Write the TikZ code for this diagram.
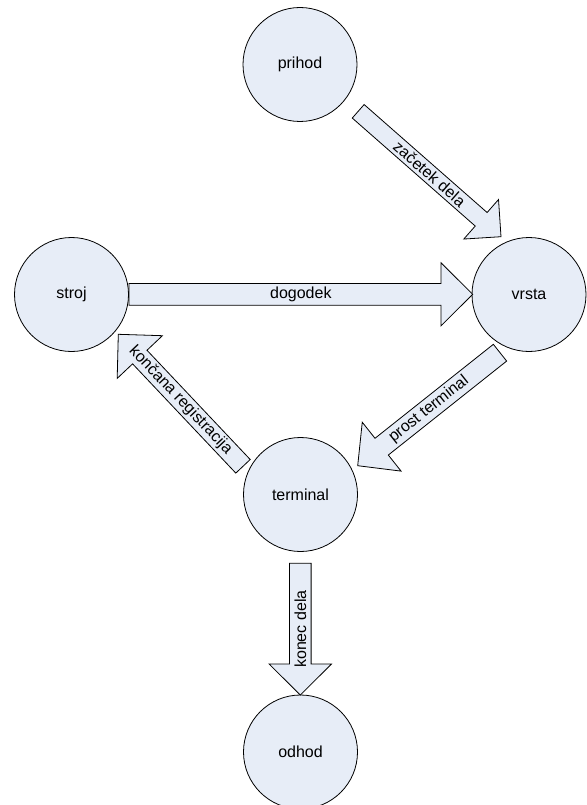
\documentclass[tikz,border=0pt]{standalone}
\usepackage{fontspec}
\setmainfont{Liberation Sans}
\usetikzlibrary{calc}
\definecolor{fillc}{RGB}{231,237,247}
\tikzset{
  state/.style={circle, draw=black, line width=0.8pt, fill=fillc, minimum size=114pt, inner sep=0pt, font=\fontsize{16}{19}\selectfont},
  barrow/.style={draw=black, line width=0.8pt, fill=fillc, line join=miter},
  alabel/.style={font=\fontsize{16}{19}\selectfont, inner sep=0pt}
}
\newcommand\blockarr[7]{%
  \coordinate (hb) at ($(#2)!#5!(#1)$);
  \draw[barrow] ($(#1)!#3!90:(#2)$) -- ($(hb)!#3!90:(#2)$) -- ($(hb)!#4!90:(#2)$) -- (#2)
     -- ($(hb)!#4!-90:(#2)$) -- ($(hb)!#3!-90:(#2)$) -- ($(#1)!#3!-90:(#2)$) -- cycle;
  \node[alabel, rotate=#6] at ($(#1)!0.5!(#2)$) {#7};
}
\begin{document}
\begin{tikzpicture}[x=1pt,y=-1pt]
\useasboundingbox (0,0) rectangle (586,805);
% states
\node[state] (prihod) at (300,64.5) {prihod};
\node[state] (stroj) at (71.5,294.5) {stroj};
\node[state] (vrsta) at (529,294.5) {vrsta};
\node[state] (terminal) at (300.5,494.5) {terminal};
\node[state] (odhod) at (300.5,752) {odhod};
% arrow end points
\coordinate (a1t) at (358.2,111.3);
\coordinate (a1h) at (501,236.7);
\coordinate (a2t) at (129,294.3);
\coordinate (a2h) at (472.7,294.3);
\coordinate (a3t) at (500,352.7);
\coordinate (a3h) at (357.7,465.7);
\coordinate (a4t) at (243,466.3);
\coordinate (a4h) at (118.3,334.3);
\coordinate (a5t) at (300.3,563.3);
\coordinate (a5h) at (300.3,695);
% block arrows
\blockarr{a1t}{a1h}{9pt}{26.3pt}{26.4pt}{-41.3}{začetek dela}
\blockarr{a2t}{a2h}{10.9pt}{31.5pt}{31.7pt}{0}{dogodek}
\blockarr{a3t}{a3h}{10.7pt}{31.2pt}{30.6pt}{38.5}{prost terminal}
\blockarr{a4t}{a4h}{9.9pt}{31.1pt}{31.3pt}{-46.6}{končana registracija}
\blockarr{a5t}{a5h}{10.8pt}{31.2pt}{31pt}{90}{konec dela}
\end{tikzpicture}
\end{document}
